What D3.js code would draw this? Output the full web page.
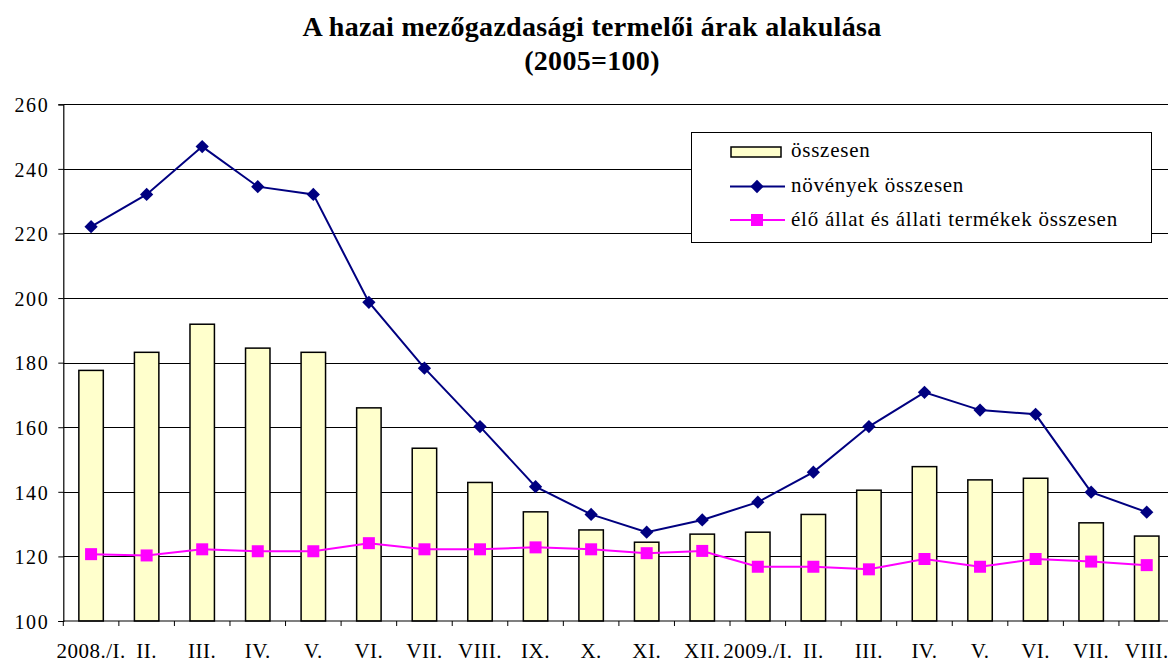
<!DOCTYPE html>
<html>
<head>
<meta charset="utf-8">
<script src="https://cdn.jsdelivr.net/npm/d3@7"></script>
<style>
  html, body { margin: 0; padding: 0; background: #fff; }
  svg { display: block; }
</style>
</head>
<body>
<svg id="chart" width="1168" height="662"></svg>
<script>
const categories = ["2008./I.", "II.", "III.", "IV.", "V.", "VI.", "VII.", "VIII.", "IX.", "X.", "XI.", "XII.",
                    "2009./I.", "II.", "III.", "IV.", "V.", "VI.", "VII.", "VIII."];
const osszesen = [177.6, 183.2, 191.9, 184.5, 183.2, 166.0, 153.5, 142.9, 133.8, 128.2, 124.4, 126.9,
                  127.5, 133.0, 140.5, 147.8, 143.7, 144.2, 130.4, 126.3];
const novenyek = [222.1, 232.1, 246.9, 234.5, 232.1, 198.7, 178.3, 160.2, 141.6, 133.0, 127.5, 131.3,
                  136.8, 146.1, 160.2, 170.8, 165.3, 164.0, 139.9, 133.7];
const allat = [120.7, 120.3, 122.2, 121.6, 121.6, 124.1, 122.2, 122.2, 122.8, 122.2, 121.0, 121.7,
               116.8, 116.8, 116.0, 119.2, 116.8, 119.2, 118.4, 117.3];
const yTicks = [100, 120, 140, 160, 180, 200, 220, 240, 260];
const seriesNames = ["összesen", "növények összesen", "élő állat és állati termékek összesen"];
const titleLines = ["A hazai mezőgazdasági termelői árak alakulása", "(2005=100)"];

const FONT = "'Liberation Serif', 'Times New Roman', serif";
const svg = d3.select("#chart");
const pLeft = 63.3, pRight = 1174.5, pTop = 104.3, pBottom = 621;

const x = d3.scaleBand().domain(d3.range(categories.length)).range([pLeft, pRight]).paddingInner(0.56).paddingOuter(0.28);
const xc = i => x(i) + x.bandwidth() / 2;
const y = d3.scaleLinear().domain([100, 260]).range([pBottom, pTop]);

// title
svg.append("g").selectAll("text").data(titleLines).join("text")
  .attr("x", 592).attr("y", (d, i) => 36 + i * 34)
  .attr("text-anchor", "middle")
  .style("font-family", FONT)
  .style("font-weight", "bold").style("font-size", "28px").style("letter-spacing", "0.3px")
  .attr("fill", "#000")
  .text(d => d);

// gridlines
svg.append("g").selectAll("line").data(yTicks.filter(t => t > 100)).join("line")
  .attr("x1", pLeft).attr("x2", 1168)
  .attr("y1", d => Math.round(y(d)) + 0.5).attr("y2", d => Math.round(y(d)) + 0.5)
  .attr("stroke", "#000").attr("stroke-width", 1);

// bars
svg.append("g").selectAll("rect").data(osszesen).join("rect")
  .attr("x", (d, i) => x(i)).attr("width", x.bandwidth())
  .attr("y", d => y(d)).attr("height", d => y(100) - y(d))
  .attr("fill", "#FFFFCC").attr("stroke", "#000").attr("stroke-width", 1.5);

// y axis
const yAxis = d3.axisLeft(y).tickValues(yTicks).tickSize(5).tickPadding(9);
const gy = svg.append("g").attr("transform", `translate(${pLeft},0)`).call(yAxis);
gy.select(".domain").attr("stroke", "#000").attr("stroke-width", 1.2);
gy.selectAll(".tick line").attr("stroke", "#000");
gy.selectAll(".tick text").style("font-size", "20px").style("letter-spacing", "1.6px")
  .style("font-family", FONT).attr("fill", "#000").attr("dy", "0.36em");

// x axis
const boundaries = d3.range(categories.length + 1).map(i => pLeft + i * x.step());
const gx = svg.append("g");
gx.append("line").attr("x1", pLeft).attr("x2", 1168).attr("y1", pBottom).attr("y2", pBottom)
  .attr("stroke", "#000").attr("stroke-width", 1.2);
gx.selectAll("line.tk").data(boundaries).join("line").attr("class", "tk")
  .attr("x1", d => d).attr("x2", d => d).attr("y1", pBottom).attr("y2", pBottom + 5)
  .attr("stroke", "#000");
gx.selectAll("text").data(categories).join("text")
  .attr("x", (d, i) => xc(i)).attr("y", 658)
  .attr("text-anchor", "middle")
  .style("font-family", FONT).style("font-size", "21px").style("letter-spacing", "0.5px")
  .attr("fill", "#000")
  .text(d => d);

// lines
const lineGen = d3.line().x((d, i) => xc(i)).y(d => y(d));
svg.append("path").datum(novenyek).attr("d", lineGen)
  .attr("fill", "none").attr("stroke", "#000080").attr("stroke-width", 2);
svg.append("path").datum(allat).attr("d", lineGen)
  .attr("fill", "none").attr("stroke", "#FF00FF").attr("stroke-width", 2);

const diamond = d3.symbol().type(d3.symbolSquare).size(88);
svg.append("g").selectAll("path").data(novenyek).join("path")
  .attr("d", diamond())
  .attr("transform", (d, i) => `translate(${xc(i)},${y(d)}) rotate(45)`)
  .attr("fill", "#000080");
svg.append("g").selectAll("rect").data(allat).join("rect")
  .attr("x", (d, i) => xc(i) - 6).attr("y", d => y(d) - 6)
  .attr("width", 12).attr("height", 12).attr("fill", "#FF00FF");

// legend
const lg = svg.append("g");
lg.append("rect").attr("x", 691.5).attr("y", 132.5).attr("width", 460).attr("height", 110)
  .attr("fill", "#fff").attr("stroke", "#000").attr("stroke-width", 1);
const rowY = [151.5, 186.5, 220];
lg.append("rect").attr("x", 731).attr("y", 147).attr("width", 50).attr("height", 10)
  .attr("fill", "#FFFFCC").attr("stroke", "#000").attr("stroke-width", 1.5);
lg.append("line").attr("x1", 730).attr("x2", 785).attr("y1", rowY[1]).attr("y2", rowY[1])
  .attr("stroke", "#000080").attr("stroke-width", 2);
lg.append("path").attr("d", diamond()).attr("transform", `translate(757,${rowY[1]}) rotate(45)`).attr("fill", "#000080");
lg.append("line").attr("x1", 730).attr("x2", 785).attr("y1", rowY[2]).attr("y2", rowY[2])
  .attr("stroke", "#FF00FF").attr("stroke-width", 2);
lg.append("rect").attr("x", 751).attr("y", rowY[2] - 6).attr("width", 12).attr("height", 12).attr("fill", "#FF00FF");
lg.selectAll("text").data(seriesNames).join("text")
  .attr("x", 791).attr("y", (d, i) => rowY[i] + 5.5)
  .style("font-family", FONT).style("font-size", "21px").style("letter-spacing", "0.75px")
  .attr("fill", "#000")
  .text(d => d);
</script>
</body>
</html>
